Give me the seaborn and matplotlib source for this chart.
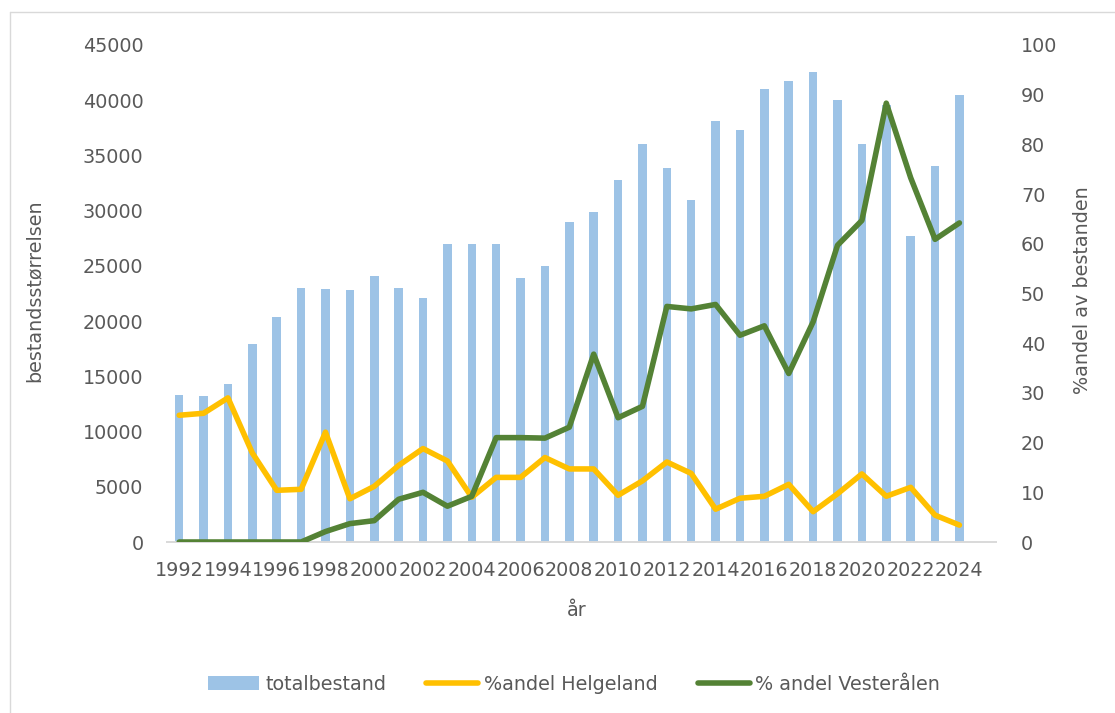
import matplotlib
matplotlib.use("Agg")
import matplotlib.pyplot as plt
import seaborn as sns
import pandas as pd
import numpy as np
from matplotlib.patches import Patch
from matplotlib.lines import Line2D

years = ["1992", "1993", "1994", "1995", "1996", "1997", "1998", "1999", "2000",
         "2001", "2002", "2003", "2004", "2005", "2006", "2007", "2008", "2009",
         "2010", "2011", "2012", "2013", "2014", "2015", "2016", "2017", "2018",
         "2019", "2020", "2021", "2022", "2023", "2024"]
totalbestand = [13300, 13200, 14300, 17900, 20400, 23000, 22900, 22800, 24100,
                23000, 22100, 27000, 27000, 27000, 23900, 25000, 29000, 29900,
                32800, 36000, 33900, 31000, 38100, 37300, 41000, 41700, 42600,
                40000, 36000, 39600, 27700, 34000, 40500]
andel_helgeland = [25.5, 25.9, 29.0, 17.9, 10.4, 10.6, 22.1, 8.7, 11.2,
                   15.4, 18.8, 16.3, 9.0, 13.0, 13.0, 17.0, 14.7, 14.7,
                   9.4, 12.3, 16.1, 13.8, 6.6, 8.8, 9.2, 11.6, 6.1,
                   9.7, 13.7, 9.2, 11.0, 5.4, 3.4]
andel_vesteralen = [0, 0, 0, 0, 0, 0, 2.1, 3.7, 4.3,
                    8.6, 10.0, 7.2, 9.2, 21.0, 21.0, 20.9, 23.1, 37.8,
                    25.0, 27.3, 47.4, 46.9, 47.8, 41.6, 43.5, 33.9, 44.3,
                    59.7, 64.7, 88.3, 73.3, 60.9, 64.2]

left_ticks = [0, 5000, 10000, 15000, 20000, 25000, 30000, 35000, 40000, 45000]
right_ticks = [0, 10, 20, 30, 40, 50, 60, 70, 80, 90, 100]

BAR = "#9DC3E6"
YEL = "#FFC000"
GRN = "#548235"
TXT = "#595959"
FS = 13.8
LW = 4.0

sns.set_theme(style="white")
plt.rcParams['font.family'] = ['DejaVu Sans']

W, H = 1115, 713
fig = plt.figure(figsize=(W / 100, H / 100), dpi=100)
x0, x1, yb, yt = 167, 996, 542, 45
ax = fig.add_axes([x0 / W, 1 - yb / H, (x1 - x0) / W, (yb - yt) / H])

df = pd.DataFrame({"år": years, "totalbestand": totalbestand})
sns.barplot(data=df, x="år", y="totalbestand", order=years, color=BAR,
            saturation=1, width=0.35, ax=ax, linewidth=0)

ax2 = ax.twinx()
pos = np.arange(len(years))
sns.lineplot(x=pos, y=andel_helgeland, ax=ax2, color=YEL, linewidth=LW,
             sort=False, solid_capstyle="round", solid_joinstyle="round")
sns.lineplot(x=pos, y=andel_vesteralen, ax=ax2, color=GRN, linewidth=LW,
             sort=False, solid_capstyle="round", solid_joinstyle="round")

ax.set_xlim(-0.5, 33.5)
ax.set_ylim(0, 45000)
ax2.set_ylim(0, 100)
ax.set_yticks(left_ticks)
ax.set_yticklabels([str(t) for t in left_ticks])
ax2.set_yticks(right_ticks)
ax2.set_yticklabels([str(t) for t in right_ticks])
ax.set_xticks(pos[::2])
ax.set_xticklabels(years[::2])

for a in (ax, ax2):
    for s in a.spines.values():
        s.set_visible(False)
    a.tick_params(length=0, labelsize=FS, labelcolor=TXT)
    a.grid(False)
ax.spines["bottom"].set_visible(True)
ax.spines["bottom"].set_color("#d9d9d9")
ax.spines["bottom"].set_linewidth(1.4)
ax.tick_params(axis="y", pad=17)
ax.tick_params(axis="x", pad=14)
ax2.tick_params(axis="y", pad=18)

ax.set_xlabel("år", fontsize=FS, color=TXT)
ax.xaxis.set_label_coords((577 - x0) / (x1 - x0), -(611 - yb) / (yb - yt))
ax.set_ylabel("bestandsstørrelsen", fontsize=FS, color=TXT)
ax.yaxis.set_label_coords((34 - x0) / (x1 - x0), 0.506)
ax2.set_ylabel("%andel av bestanden", fontsize=FS, color=TXT, rotation=90)
ax2.yaxis.set_label_coords((1082 - x0) / (x1 - x0), 0.506)
ax.xaxis.label.set_va("center")
ax.yaxis.label.set_va("center")
ax2.yaxis.label.set_va("center")

handles = [Patch(facecolor=BAR, edgecolor="none"),
           Line2D([0], [0], color=YEL, lw=LW, solid_capstyle="round"),
           Line2D([0], [0], color=GRN, lw=LW, solid_capstyle="round")]
labels = ["totalbestand", "%andel Helgeland", "% andel Vesterålen"]
fig.legend(handles, labels, loc="center", bbox_to_anchor=(574 / W, 1 - 684 / H),
           ncol=3, frameon=False, handlelength=2.7, handletextpad=0.3,
           columnspacing=2.1, fontsize=FS, labelcolor=TXT)

fig.add_artist(Line2D([10 / W, 1], [1 - 12 / H, 1 - 12 / H], transform=fig.transFigure,
                      color="#d9d9d9", lw=1))
fig.add_artist(Line2D([10 / W, 10 / W], [0, 1 - 12 / H], transform=fig.transFigure,
                      color="#d9d9d9", lw=1))

fig.savefig("out.png", dpi=100, facecolor="white")
